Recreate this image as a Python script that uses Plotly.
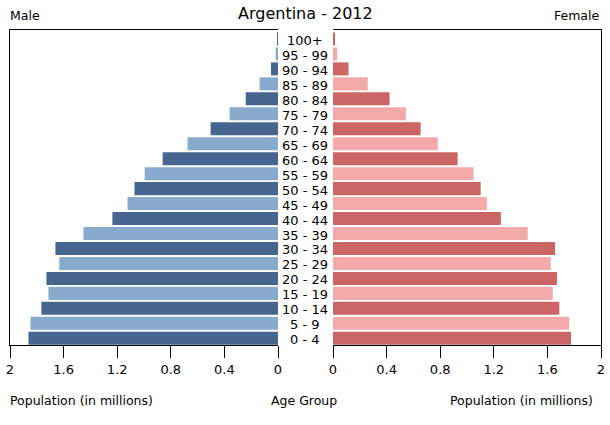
import plotly.graph_objects as go

# Age groups, youngest first (bottom of the pyramid)
age_groups = ['0 - 4', '5 - 9', '10 - 14', '15 - 19', '20 - 24', '25 - 29', '30 - 34',
              '35 - 39', '40 - 44', '45 - 49', '50 - 54', '55 - 59', '60 - 64', '65 - 69',
              '70 - 74', '75 - 79', '80 - 84', '85 - 89', '90 - 94', '95 - 99', '100+']

# Population in millions
male = [1.862, 1.847, 1.766, 1.713, 1.728, 1.632, 1.661, 1.452, 1.236, 1.123, 1.071,
        0.995, 0.861, 0.675, 0.503, 0.361, 0.241, 0.137, 0.052, 0.017, 0.005]
female = [1.776, 1.762, 1.689, 1.640, 1.672, 1.625, 1.657, 1.453, 1.253, 1.148, 1.102,
          1.049, 0.930, 0.782, 0.654, 0.544, 0.422, 0.259, 0.116, 0.032, 0.009]

tick_vals = [0, 0.4, 0.8, 1.2, 1.6, 2]
tick_text = ['0', '0.4', '0.8', '1.2', '1.6', '2']

male_colors = ['#466690' if i % 2 == 0 else '#88aacc' for i in range(len(age_groups))]
female_colors = ['#cc6666' if i % 2 == 0 else '#f4aaaa' for i in range(len(age_groups))]

FONT = 'DejaVu Sans'
W, H = 610, 425
TOP, BOTTOM = 30, 345  # plot area in pixels


def px_y(py):
    # pixel row -> paper y (paper spans the plot area only)
    return (BOTTOM - py) / (BOTTOM - TOP)


fig = go.Figure()

fig.add_trace(go.Bar(
    x=male, y=age_groups, orientation='h', xaxis='x', yaxis='y',
    marker=dict(color=male_colors, line=dict(width=0)), showlegend=False, hoverinfo='skip'
))
fig.add_trace(go.Bar(
    x=female, y=age_groups, orientation='h', xaxis='x2', yaxis='y2',
    marker=dict(color=female_colors, line=dict(width=0)), showlegend=False, hoverinfo='skip'
))

axis_common = dict(
    tickvals=tick_vals, ticktext=tick_text, ticks='outside', ticklen=12, tickwidth=1,
    tickcolor='black', showline=True, linecolor='black', linewidth=1, mirror=True,
    showgrid=False, zeroline=False, automargin=False,
    tickfont=dict(family=FONT, size=13, color='black'),
)
yaxis_common = dict(
    type='category', categoryorder='array', categoryarray=age_groups,
    range=[-0.45, 20.6], showticklabels=False, ticks='', showgrid=False,
    zeroline=False, showline=True, linecolor='black', linewidth=1, automargin=False,
)

fig.update_layout(
    width=W, height=H,
    margin=dict(l=0, r=0, t=TOP, b=H - BOTTOM, autoexpand=False),
    paper_bgcolor='white', plot_bgcolor='white',
    bargap=0.13,
    xaxis=dict(domain=[10 / W, 278 / W], range=[2, 0], anchor='y', **axis_common),
    xaxis2=dict(domain=[333 / W, 601 / W], range=[0, 2], anchor='y2', **axis_common),
    yaxis=dict(anchor='x', side='left', **yaxis_common),
    yaxis2=dict(anchor='x2', side='right', **yaxis_common),
    font=dict(family=FONT, size=13, color='black'),
)

# Age group labels between the two halves
for ag in age_groups:
    fig.add_annotation(x=305 / W, xref='paper', y=ag, yref='y', text=ag, yshift=-1.5,
                       showarrow=False, xanchor='center', yanchor='middle',
                       font=dict(family=FONT, size=13, color='black'))

texts = [
    dict(x=305 / W, y=px_y(14), text='Argentina - 2012', xanchor='center', size=16),
    dict(x=8 / W, y=px_y(16), text='Male', xanchor='left', size=12.5),
    dict(x=602 / W, y=px_y(16), text='Female', xanchor='right', size=12.5),
    dict(x=8 / W, y=px_y(400), text='Population (in millions)', xanchor='left', size=12.5),
    dict(x=304 / W, y=px_y(400), text='Age Group', xanchor='center', size=12.5),
    dict(x=595 / W, y=px_y(400), text='Population (in millions)', xanchor='right', size=12.5),
]
for t in texts:
    fig.add_annotation(x=t['x'], y=t['y'], xref='paper', yref='paper', text=t['text'],
                       showarrow=False, xanchor=t['xanchor'], yanchor='middle',
                       font=dict(family=FONT, size=t['size'], color='black'))

# drop the default page margin so the figure sits at the window's corner
fig.write_html('out.html', config={'displayModeBar': False},
               post_script="document.body.style.margin='0';")
